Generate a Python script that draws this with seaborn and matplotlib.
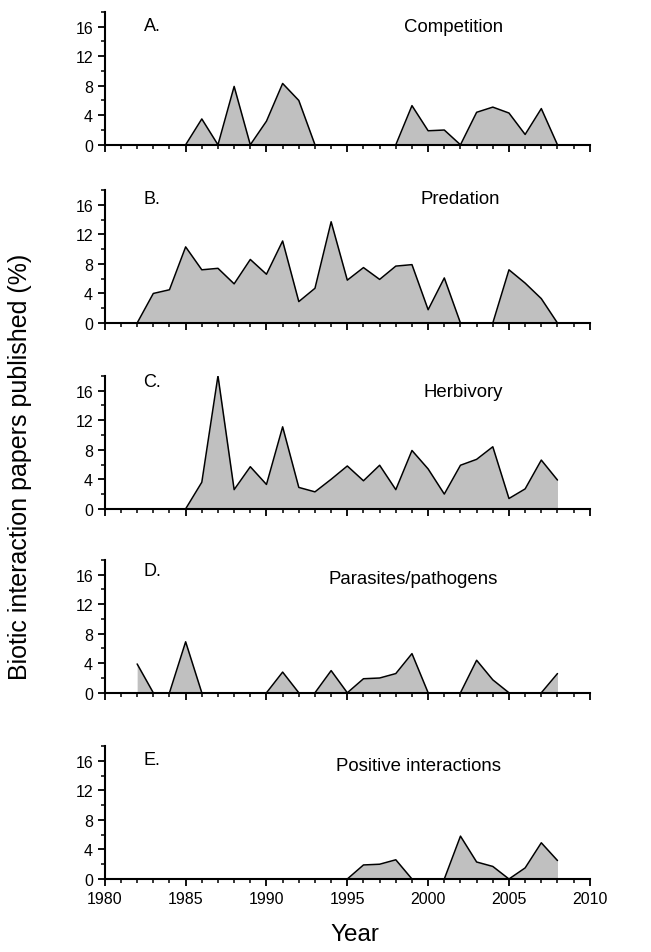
import matplotlib
matplotlib.use("Agg")
import matplotlib.pyplot as plt
import seaborn as sns
from matplotlib.ticker import MultipleLocator

# Anos (1982-2008)
years = list(range(1982, 2009))

competition = [0, 0, 0, 0, 3.5, 0, 7.9, 0, 3.2, 8.3, 6.0, 0, 0, 0,
               0, 0, 0, 5.3, 1.9, 2.0, 0, 4.4, 5.1, 4.3, 1.4, 4.9, 0]
predation = [0, 4.0, 4.5, 10.3, 7.2, 7.4, 5.3, 8.6, 6.6, 11.1, 2.9, 4.7, 13.7, 5.8,
             7.5, 5.9, 7.7, 7.9, 1.8, 6.1, 0, 0, 0, 7.2, 5.4, 3.3, 0]
herbivory = [0, 0, 0, 0, 3.6, 18.0, 2.6, 5.7, 3.3, 11.1, 2.9, 2.3, 4.0, 5.8,
             3.8, 5.9, 2.6, 7.9, 5.4, 2.0, 5.9, 6.7, 8.4, 1.4, 2.7, 6.6, 3.9]
parasites = [3.9, 0, 0, 6.9, 0, 0, 0, 0, 0, 2.8, 0, 0, 3.0, 0,
             1.9, 2.0, 2.6, 5.3, 0, 0, 0, 4.4, 1.75, 0, 0, 0, 2.6]
positive = [0, 0, 0, 0, 0, 0, 0, 0, 0, 0, 0, 0, 0, 0,
            1.9, 2.0, 2.6, 0, 0, 0, 5.8, 2.3, 1.7, 0, 1.5, 4.9, 2.5]

panel_letters = ["A.", "B.", "C.", "D.", "E."]
panel_titles = ["Competition", "Predation", "Herbivory", "Parasites/pathogens", "Positive interactions"]
series = [competition, predation, herbivory, parasites, positive]

# posição (base de cada painel, em fração da figura) e posição dos textos
bottoms = [0.847, 0.660, 0.465, 0.272, 0.0766]
letter_y = [16.1, 16.8, 17.2, 16.5, 16.2]
title_x = [2001.6, 2002.0, 2002.2, 1999.1, 1999.4]
title_y = [16.0, 16.9, 15.9, 15.5, 15.4]

sns.set_style("ticks")
plt.rcParams["font.family"] = ["Liberation Sans", "DejaVu Sans"]
plt.rcParams["text.color"] = "black"
plt.rcParams["xtick.color"] = "black"
plt.rcParams["ytick.color"] = "black"

fig = plt.figure(figsize=(6.51, 9.53), dpi=100)

for i, vals in enumerate(series):
    ax = fig.add_axes([0.161, bottoms[i], 0.745, 0.1396])
    ax.fill_between(years, vals, color="#c0c0c0", lw=0, zorder=1)
    sns.lineplot(x=years, y=vals, ax=ax, color="black", lw=1.1, zorder=2)
    ax.set_xlim(1980, 2010)
    ax.set_ylim(0, 18)
    ax.yaxis.set_major_locator(MultipleLocator(4))
    ax.yaxis.set_minor_locator(MultipleLocator(2))
    ax.xaxis.set_major_locator(MultipleLocator(5))
    ax.xaxis.set_minor_locator(MultipleLocator(1))
    ax.tick_params(which="major", length=5, width=1.3, labelsize=11.5,
                   color="black", labelcolor="black")
    ax.tick_params(which="minor", length=3, width=1.1, color="black")
    for s in ["left", "bottom"]:
        ax.spines[s].set_linewidth(1.5)
        ax.spines[s].set_color("black")
    sns.despine(ax=ax)
    ax.set_xlabel("")
    ax.set_ylabel("")
    if i < 4:
        ax.set_xticklabels([])
    ax.text(1982.4, letter_y[i], panel_letters[i], fontsize=13, ha="left", va="center")
    ax.text(title_x[i], title_y[i], panel_titles[i], fontsize=13.4, ha="center", va="center")

fig.text(0.031, 0.51, "Biotic interaction papers published (%)", rotation=90,
         fontsize=18, ha="center", va="center")
fig.text(0.545, 0.019, "Year", fontsize=17.5, ha="center", va="center")

plt.savefig("out.png", dpi=100)
